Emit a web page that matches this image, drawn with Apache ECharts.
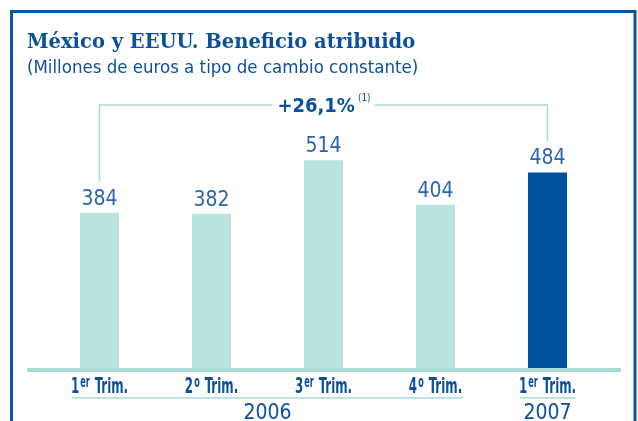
<!DOCTYPE html>
<html>
<head>
<meta charset="utf-8">
<script src="https://cdn.jsdelivr.net/npm/echarts@6/dist/echarts.min.js"></script>
<style>
  html, body { margin: 0; padding: 0; background: #fff; }
  #chart { width: 638px; height: 421px; }
</style>
</head>
<body>
<div id="chart"></div>
<script>
// Quarterly attributable profit, Mexico & USA (EUR millions, constant FX)
const categories = ['1er Trim.', '2o Trim.', '3er Trim.', '4o Trim.', '1er Trim.'];
const values = [384, 382, 514, 404, 484];
const years = ['2006', '2007'];
const yearSpans = [[0, 3], [4, 4]];
const growthText = '+26,1%';
const growthNote = '(1)';
const growthFrom = 0;
const growthTo = 4;

const NARROW = "'DejaVu Sans Condensed', 'Liberation Sans', sans-serif";
const BLUE = '#0b509d';
const TEXT = '#2c64ae';
const TEAL = '#b9e3dd';
const LINE = '#a7dbd3';
const DARK = '#00529e';

const chart = echarts.init(document.getElementById('chart'), null, { renderer: 'canvas' });

// "1er Trim." -> number, superscript ordinal, rest
function quarterLabel(v) {
  const m = /^(\d)(\S+)\s(.*)$/.exec(v);
  if (!m) return v;
  return '{n|' + m[1] + '}{s|' + m[2] + '}{n|' + m[3] + '}';
}

chart.setOption({
  animation: false,
  title: {
    text: 'México y EEUU. Beneficio atribuido',
    subtext: '(Millones de euros a tipo de cambio constante)',
    left: 22,
    top: 28,
    itemGap: 6,
    textStyle: { fontFamily: "'DejaVu Serif', serif", fontWeight: 'bold', fontSize: 19.5, color: BLUE },
    subtextStyle: { fontFamily: NARROW, fontSize: 18.5, color: BLUE }
  },
  grid: { left: 43.5, right: 34.5, top: 125.6, bottom: 53 },
  xAxis: {
    type: 'category',
    data: categories,
    axisLine: { show: false },
    axisTick: { show: false },
    axisLabel: { show: false }
  },
  yAxis: { type: 'value', min: 0, max: 600, show: false },
  series: [{
    type: 'bar',
    data: values,
    barWidth: 39,
    itemStyle: { color: p => (p.dataIndex === values.length - 1 ? DARK : TEAL) },
    label: {
      show: true,
      position: 'top',
      distance: 3,
      fontFamily: NARROW,
      fontSize: 21,
      color: TEXT
    }
  }]
});

function px(i, v) {
  return chart.convertToPixel({ xAxisIndex: 0, yAxisIndex: 0 }, [i, v]);
}

const graphics = [];

// outer frame
graphics.push({
  type: 'rect',
  shape: { x: 11.5, y: 11.5, width: 623.5, height: 520 },
  style: { fill: 'none', stroke: '#0a55a0', lineWidth: 3 },
  silent: true
});

// thick baseline under the bars
const base = px(0, 0)[1];
graphics.push({
  type: 'rect',
  shape: { x: 27, y: base, width: 594, height: 4 },
  style: { fill: LINE },
  silent: true
});

// quarter labels (condensed, with superscript ordinal)
categories.forEach((c, i) => {
  graphics.push({
    type: 'text',
    x: px(i, 0)[0],
    y: base + 8,
    scaleX: 0.6,
    style: {
      text: quarterLabel(c),
      align: 'center',
      verticalAlign: 'top',
      rich: {
        n: { fontFamily: NARROW, fontWeight: 'bold', fontSize: 22, fill: BLUE, lineHeight: 22, verticalAlign: 'bottom' },
        s: { fontFamily: NARROW, fontWeight: 'bold', fontSize: 15, fill: BLUE, lineHeight: 22, verticalAlign: 'top', padding: [0, 8, 4, 2] }
      }
    },
    silent: true
  });
});

// year groups: underline and label
yearSpans.forEach((span, k) => {
  const x0 = px(span[0], 0)[0] - 27.5;
  const x1 = px(span[1], 0)[0] + 28;
  graphics.push({
    type: 'line',
    shape: { x1: x0, y1: base + 30, x2: x1, y2: base + 30 },
    style: { stroke: LINE, lineWidth: 1.5 },
    silent: true
  });
  graphics.push({
    type: 'text',
    x: (px(span[0], 0)[0] + px(span[1], 0)[0]) / 2,
    y: base + 35,
    style: {
      text: years[k],
      fontFamily: NARROW,
      fontSize: 21,
      fill: BLUE,
      align: 'center',
      verticalAlign: 'top'
    },
    silent: true
  });
});

// growth bracket between first and last quarter
const pA = px(growthFrom, values[growthFrom]);
const pB = px(growthTo, values[growthTo]);
const bracketY = 105;
graphics.push({
  type: 'polyline',
  shape: { points: [[pA[0], pA[1] - 31], [pA[0], bracketY], [pB[0], bracketY], [pB[0], pB[1] - 31]] },
  style: { stroke: LINE, lineWidth: 1.5, fill: 'none' },
  silent: true
});
graphics.push({
  type: 'text',
  x: (pA[0] + pB[0]) / 2,
  y: bracketY,
  style: {
    text: '{a|' + growthText + '}{s|' + growthNote + '}',
    align: 'center',
    verticalAlign: 'middle',
    backgroundColor: '#fff',
    padding: [0, 4, 0, 5],
    rich: {
      a: { fontFamily: NARROW, fontWeight: 'bold', fontSize: 20, fill: BLUE, lineHeight: 24, verticalAlign: 'bottom' },
      s: { fontFamily: NARROW, fontSize: 10, fill: BLUE, lineHeight: 24, verticalAlign: 'top', padding: [0, 0, 0, 3] }
    }
  },
  silent: true
});

chart.setOption({ graphic: graphics });
</script>
</body>
</html>
